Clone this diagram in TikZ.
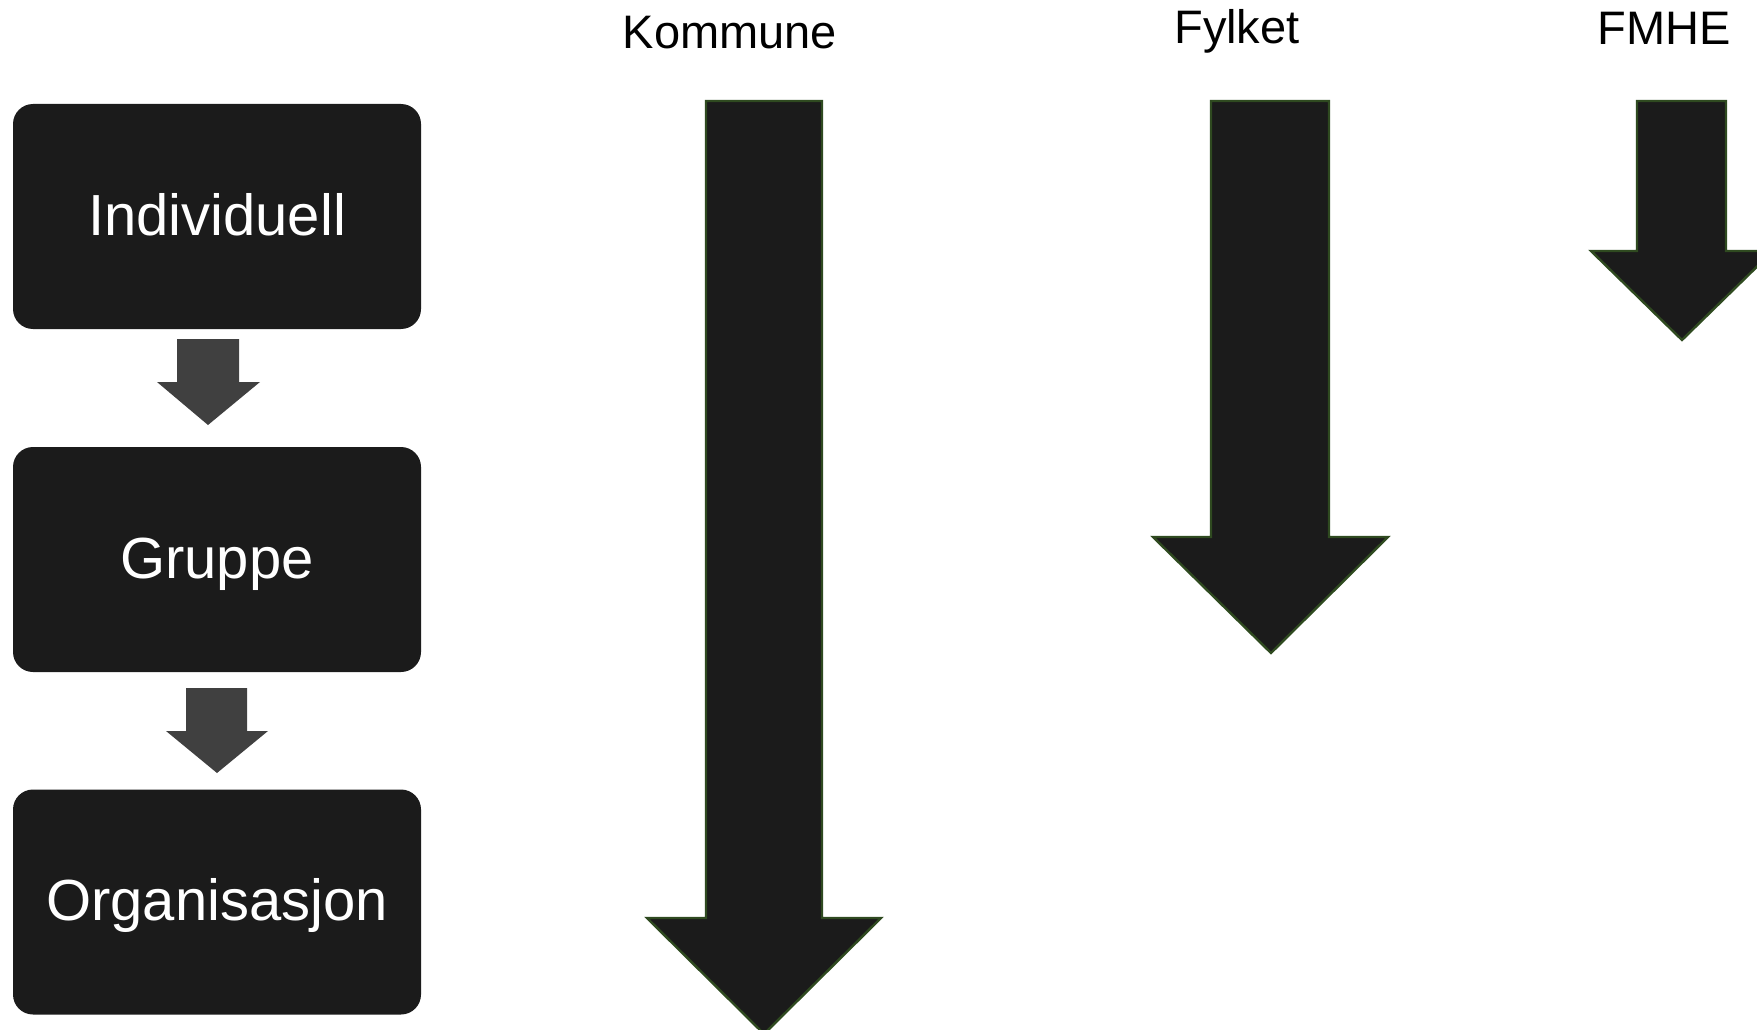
\documentclass[tikz,border=0pt]{standalone}
\usepackage{fontspec}
\setmainfont{Liberation Sans}
\definecolor{boxfill}{HTML}{1B1B1B}
\definecolor{arrowline}{HTML}{2F4A20}
\definecolor{smallarrow}{HTML}{404040}
\begin{document}
\begin{tikzpicture}[x=1pt,y=-1pt,
  levelbox/.style={draw=none,fill=boxfill,rounded corners=20pt,minimum width=408pt,minimum height=225pt,inner sep=0pt,text=white,font=\fontsize{58}{70}\selectfont,text height=37pt,text depth=0pt},
  headlabel/.style={anchor=base,font=\fontsize{47}{56}\selectfont,text=black,inner sep=0pt},
  bigarrow/.style={fill=boxfill,draw=arrowline,line width=2.4pt,line join=miter},
  minorarrow/.style={fill=smallarrow,draw=none}]
\useasboundingbox (0,0) rectangle (1757,1030);
\fill[white] (0,0) rectangle (1757,1030);

% boxes
\node[levelbox] (ind) at (217,216.5) {Individuell};
\node[levelbox] (grp) at (217,559.5) {Gruppe};
\node[levelbox] (org) at (217,902) {Organisasjon};

% small block arrows between boxes
\path[minorarrow] (177,339) -- (239,339) -- (239,382) -- (260,382) -- (208,425) -- (157,382) -- (177,382) -- cycle;
\path[minorarrow] (186,688) -- (247,688) -- (247,731) -- (268,731) -- (217,773) -- (166,731) -- (186,731) -- cycle;

% column labels
\node[headlabel] (kom) at (730,49) {Kommune};
\node[headlabel] (fyl) at (1237,44) {Fylket};
\node[headlabel] (fmhe) at (1664,45) {FMHE};

% big arrows
\draw[bigarrow] (706,101) -- (822,101) -- (822,918) -- (881,918) -- (764,1034) -- (647,918) -- (706,918) -- cycle;
\draw[bigarrow] (1211,101) -- (1329,101) -- (1329,537) -- (1388,537) -- (1271,653) -- (1153,537) -- (1211,537) -- cycle;
\draw[bigarrow] (1637,101) -- (1726,101) -- (1726,251) -- (1773,251) -- (1682,340) -- (1591,251) -- (1637,251) -- cycle;
\end{tikzpicture}
\end{document}
